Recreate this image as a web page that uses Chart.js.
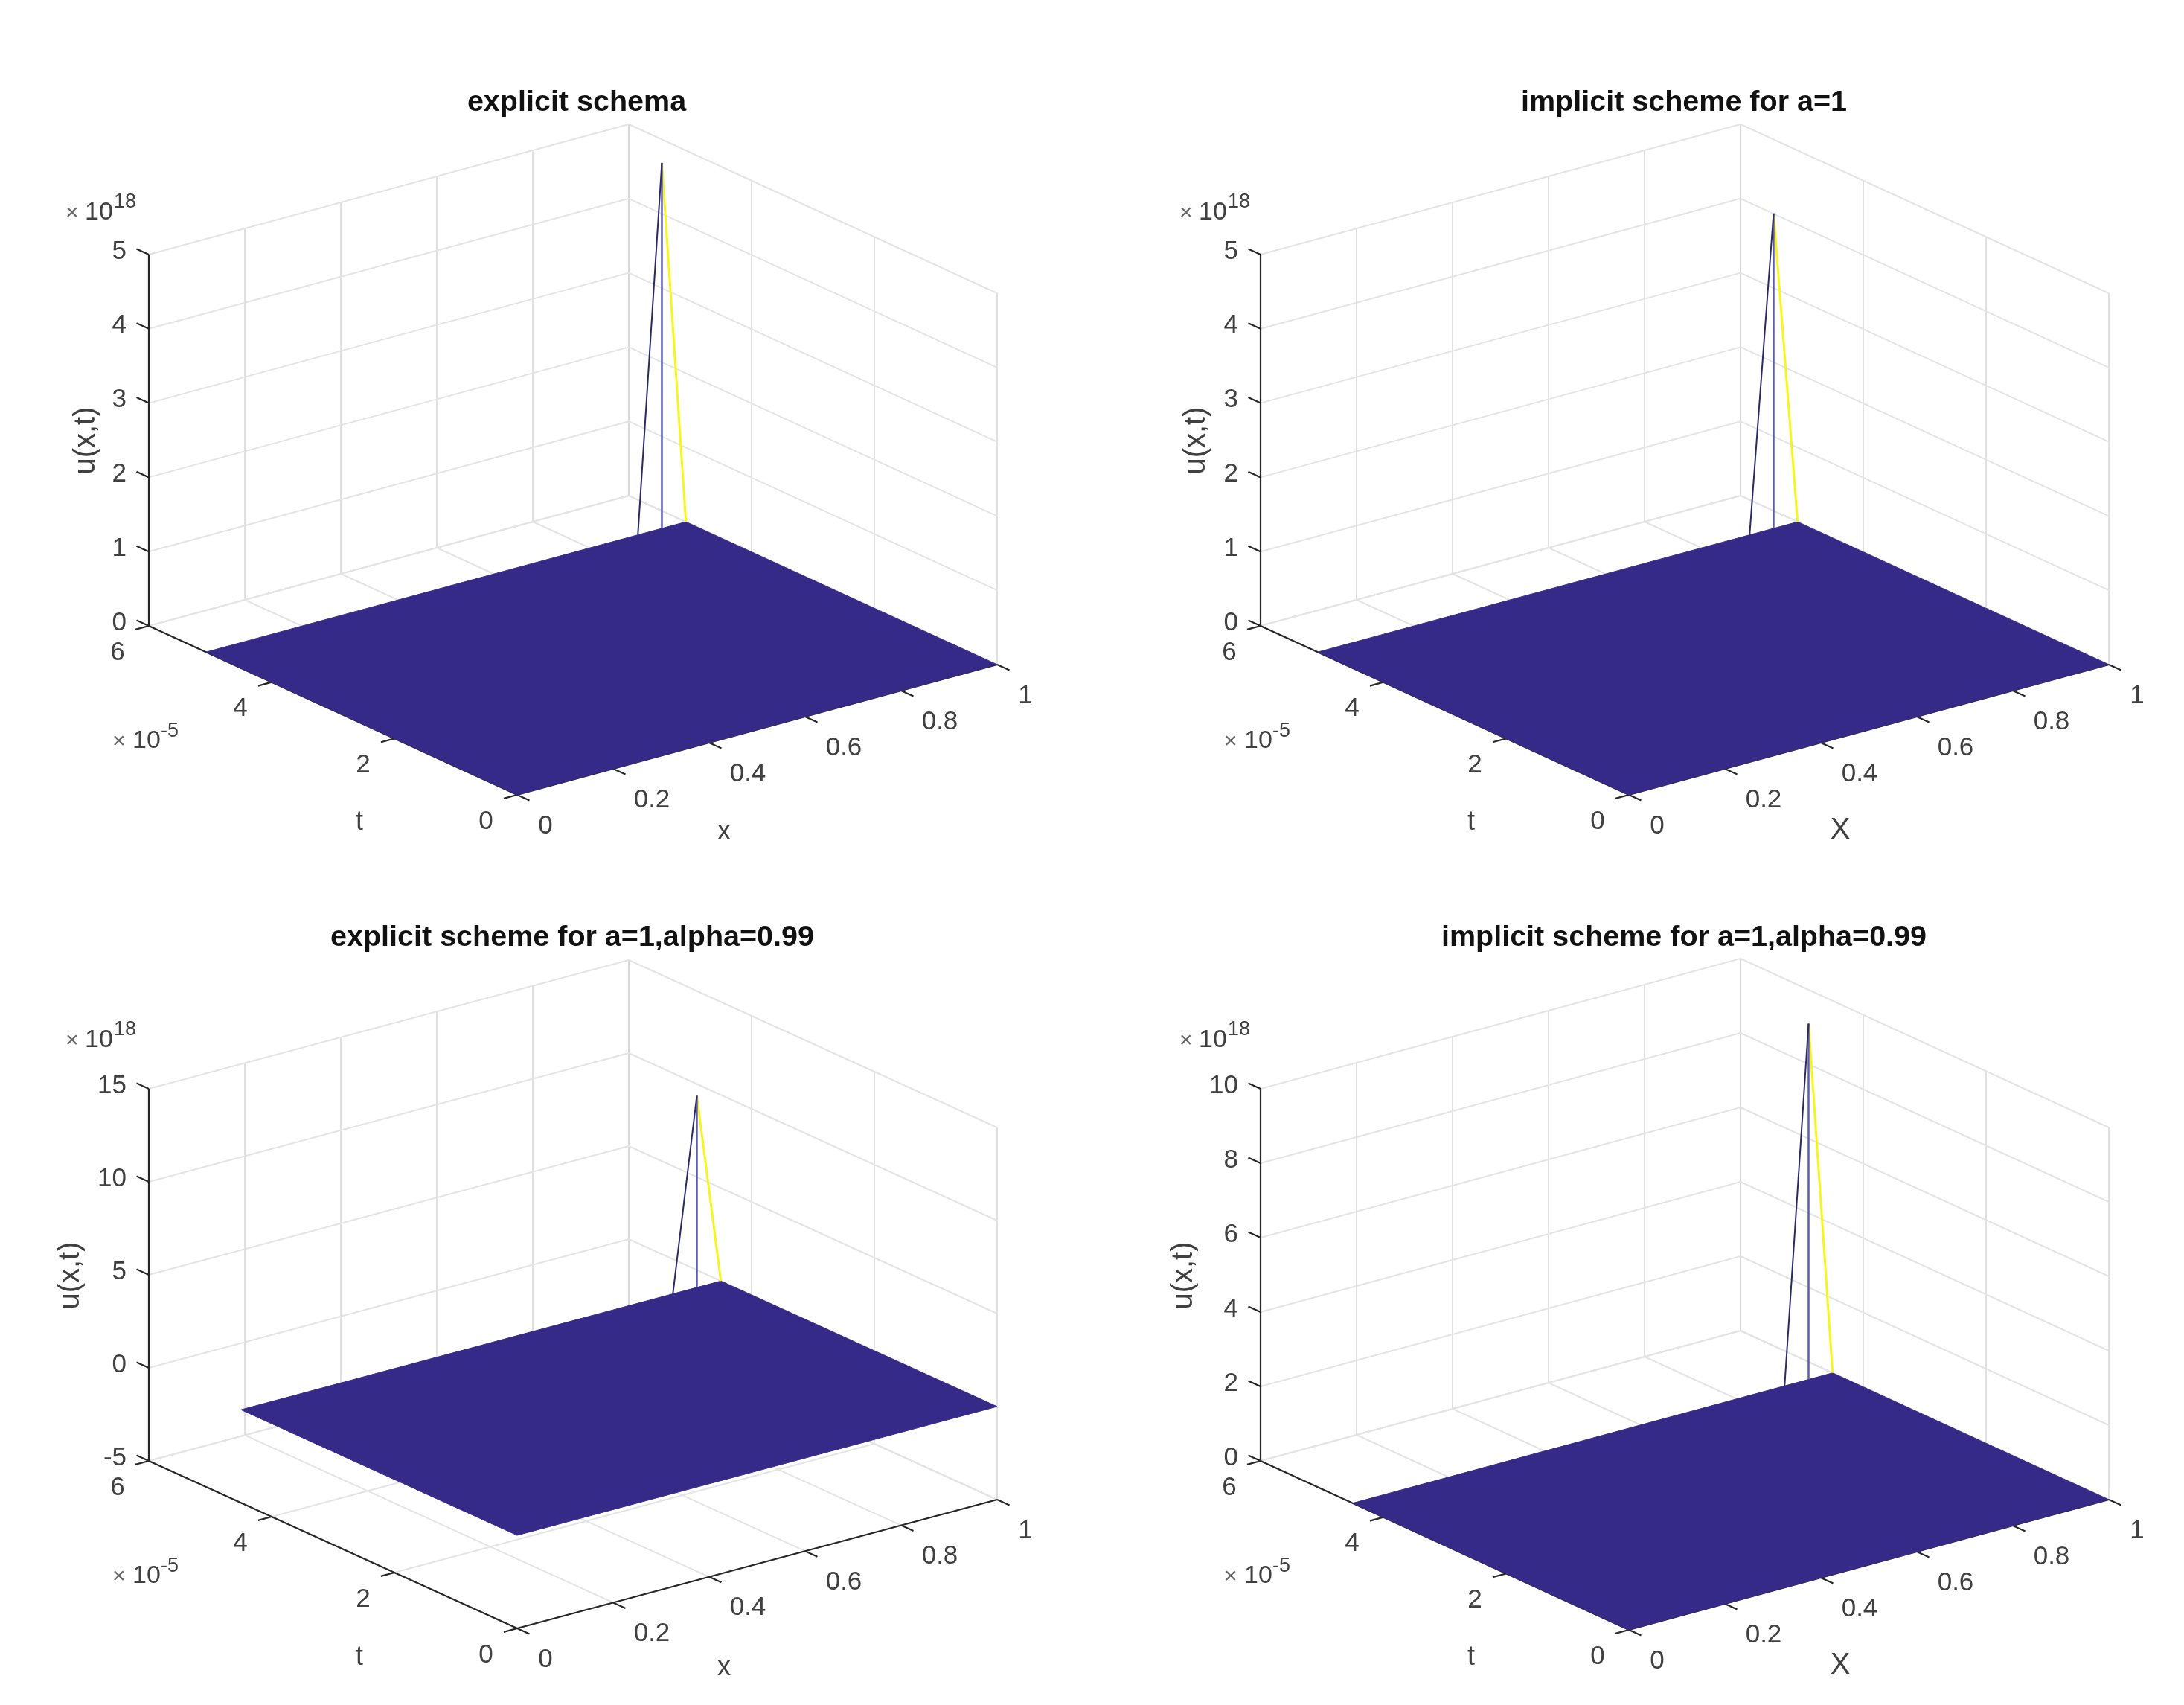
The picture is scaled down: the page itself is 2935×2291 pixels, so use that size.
<!DOCTYPE html>
<html>
<head>
<meta charset="utf-8">
<title>explicit and implicit schemes</title>
<script src="https://cdn.jsdelivr.net/npm/chart.js@4/dist/chart.umd.js"></script>
<style>
  html, body { margin: 0; padding: 0; background: #fff; }
  #page { position: relative; width: 2935px; height: 2291px; overflow: hidden; background: #fff; }
  canvas { position: absolute; }
</style>
</head>
<body>
<div id="page"></div>
<script>
// values
const panelTitles = ['explicit schema', 'implicit scheme for a=1', 'explicit scheme for a=1,alpha=0.99', 'implicit scheme for a=1,alpha=0.99'];
const xAxisNames = ['x', 'X', 'x', 'X'];
const xTicks = [0, 0.2, 0.4, 0.6, 0.8, 1];
const tTicks = [0, 2, 4, 6];
const zTicks = [[0, 1, 2, 3, 4, 5], [0, 1, 2, 3, 4, 5], [-5, 0, 5, 10, 15], [0, 2, 4, 6, 8, 10]];
const surfaceX = [0, 1];
const surfaceT = [5.07, 5.07, 4.5, 4.5];   // last time step, x 1e-5
const spikeX = [0.9, 0.95, 1];
const spikePeak = [4.92, 4.24, 10.3, 9.56]; // x 1e18

// one canvas per subplot
const PANEL_W = 1441, PANEL_H = 1169;
const panelLeft = [0, 1494, 0, 1494];
const panelTop = [0, 0, 1122, 1122];

// plot box in canvas units
const frontX = 695;
const frontY = [1068, 1068, 1066, 1068];
const xVec = { x: 645, y: [-175, -175, -173, -175] };
const tVec = { x: -495, y: [-227, -227, -225, -227] };
const zHeight = [499, 499, 500, 500];
const titleX = [775, 769, 769, 769];
const titleY = 138;
const zExpY = [295, 295, 285, 285];
const uLabelX = [116, 114, 95, 97];
const xNameY = [1118, 1116, 1119, 1116];

const AXIS = '#262626', GRID = '#e4e4e4', GRID_V = '#d6d6d6', TEXT = '#404040', SURF = '#352a87';
const FONT = '"Liberation Sans", Arial, sans-serif';

function makeProject(p) {
  const zs = zTicks[p], zMin = zs[0], zMax = zs[zs.length - 1];
  return (x, t, z) => {
    const tn = t / 6, zn = (z - zMin) / (zMax - zMin);
    return {
      x: frontX + x * xVec.x + tn * tVec.x,
      y: frontY[p] + x * xVec.y[p] + tn * tVec.y[p] - zn * zHeight[p]
    };
  };
}

function seg(a, b, color, width) {
  return { data: [a, b], borderColor: color, borderWidth: width, showLine: true, pointRadius: 0, fill: false, clip: false };
}

function buildDatasets(p) {
  const P = makeProject(p);
  const zs = zTicks[p], zMin = zs[0], zMax = zs[zs.length - 1];
  const out = [];
  // back walls and floor grid
  xTicks.forEach(x => {
    out.push(seg(P(x, 6, zMin), P(x, 6, zMax), GRID_V, 1.5));
    out.push(seg(P(x, 0, zMin), P(x, 6, zMin), GRID, 2));
  });
  tTicks.forEach(t => {
    out.push(seg(P(1, t, zMin), P(1, t, zMax), GRID_V, 1.5));
    out.push(seg(P(0, t, zMin), P(1, t, zMin), GRID, 2));
  });
  zs.forEach(z => {
    out.push(seg(P(0, 6, z), P(1, 6, z), GRID, 2));
    out.push(seg(P(1, 6, z), P(1, 0, z), GRID, 2));
  });
  // axes and ticks
  out.push(seg(P(0, 6, zMin), P(0, 6, zMax), AXIS, 2.2));
  out.push(seg(P(0, 0, zMin), P(0, 6, zMin), AXIS, 2.2));
  out.push(seg(P(0, 0, zMin), P(1, 0, zMin), AXIS, 2.2));
  zs.forEach(z => out.push(seg(P(0, 6, z), P(0, 6.2, z), AXIS, 2.2)));
  xTicks.forEach(x => out.push(seg(P(x, 0, zMin), P(x, -0.2, zMin), AXIS, 2.2)));
  tTicks.forEach(t => out.push(seg(P(0, t, zMin), P(-0.028, t, zMin), AXIS, 2.2)));
  // surface
  const tEnd = surfaceT[p];
  out.push({
    data: [P(surfaceX[0], 0, 0), P(surfaceX[1], 0, 0), P(surfaceX[1], tEnd, 0), P(surfaceX[0], tEnd, 0), P(surfaceX[0], 0, 0)],
    borderColor: SURF, backgroundColor: SURF, borderWidth: 1, showLine: true, pointRadius: 0, fill: 'shape', clip: false, tension: 0
  });
  // spike on the last time step, yellow edge underneath
  const peak = P(spikeX[1], tEnd, spikePeak[p]);
  out.push(seg(P(spikeX[2], tEnd, 0), peak, '#f6f61e', 3));
  out.push(seg(P(spikeX[1], tEnd, 0), peak, '#5c5cb2', 2.5));
  out.push(seg(P(spikeX[0], tEnd, 0), peak, '#2c2a66', 2));
  return out.reverse();   // first dataset is painted last
}

function putText(ctx, str, x, y, size, opts) {
  const o = opts || {};
  ctx.save();
  ctx.font = (o.bold ? 'bold ' : '') + size + 'px ' + FONT;
  ctx.fillStyle = o.color || TEXT;
  ctx.textAlign = o.align || 'center';
  ctx.textBaseline = o.baseline || 'middle';
  ctx.translate(x, y);
  if (o.rotate) ctx.rotate(o.rotate);
  ctx.fillText(str, 0, 0);
  ctx.restore();
}

function textPlugin(p) {
  const P = makeProject(p);
  return {
    id: 'labels' + p,
    afterDraw(chart) {
      const ctx = chart.ctx;
      const sx = chart.scales.x, sy = chart.scales.y;
      const px = v => sx.getPixelForValue(v), py = v => sy.getPixelForValue(v);
      const zs = zTicks[p], zMin = zs[0];
      putText(ctx, panelTitles[p], px(titleX[p]), py(titleY), 39.5, { bold: true, color: '#111' });
      zs.forEach(z => {
        const a = P(0, 6, z);
        putText(ctx, String(z), px(a.x - 30), py(a.y - 4), 35, { align: 'right' });
      });
      tTicks.forEach(t => {
        const a = P(0, t, zMin);
        putText(ctx, String(t), px(a.x - 42), py(a.y + 36), 35);
      });
      xTicks.forEach(x => {
        const a = P(x, 0, zMin);
        const shift = x > 0 && x < 1 ? 14 : 0;
        putText(ctx, String(x), px(a.x + 38 + shift), py(a.y + 42), 35);
      });
      // axis names
      putText(ctx, xAxisNames[p], px(p % 2 ? 979 : 973), py(xNameY[p]), p % 2 ? 40 : 36);
      putText(ctx, 't', px(483), py(1105), 36);
      putText(ctx, 'u(x,t)', px(uLabelX[p]), py(592), 40, { rotate: -Math.PI / 2 });
      // exponents
      const ex = p % 2 ? 3 : 0;
      putText(ctx, '\u00d7', px(88 + ex), py(zExpY[p]), 30, { align: 'left', baseline: 'alphabetic', color: '#666' });
      putText(ctx, '10', px(114 + ex), py(zExpY[p]), 34, { align: 'left', baseline: 'alphabetic' });
      putText(ctx, '18', px(153 + ex), py(zExpY[p] - 16), 27, { align: 'left', baseline: 'alphabetic' });
      putText(ctx, '\u00d7', px(151), py(1005), 30, { align: 'left', baseline: 'alphabetic', color: '#666' });
      putText(ctx, '10', px(178), py(1005), 34, { align: 'left', baseline: 'alphabetic' });
      putText(ctx, '-5', px(216), py(990), 27, { align: 'left', baseline: 'alphabetic' });
    }
  };
}

panelTitles.forEach((name, p) => {
  const canvas = document.createElement('canvas');
  canvas.width = PANEL_W;
  canvas.height = PANEL_H;
  canvas.style.left = panelLeft[p] + 'px';
  canvas.style.top = panelTop[p] + 'px';
  document.getElementById('page').appendChild(canvas);
  new Chart(canvas, {
    type: 'scatter',
    data: { datasets: buildDatasets(p) },
    options: {
      responsive: false,
      animation: false,
      devicePixelRatio: 1,
      layout: { padding: 0 },
      elements: { line: { tension: 0 } },
      plugins: { legend: { display: false }, tooltip: { enabled: false }, title: { display: false } },
      scales: {
        x: { type: 'linear', display: false, min: 0, max: PANEL_W },
        y: { type: 'linear', display: false, min: 0, max: PANEL_H, reverse: true }
      }
    },
    plugins: [textPlugin(p)]
  });
});
</script>
</body>
</html>
